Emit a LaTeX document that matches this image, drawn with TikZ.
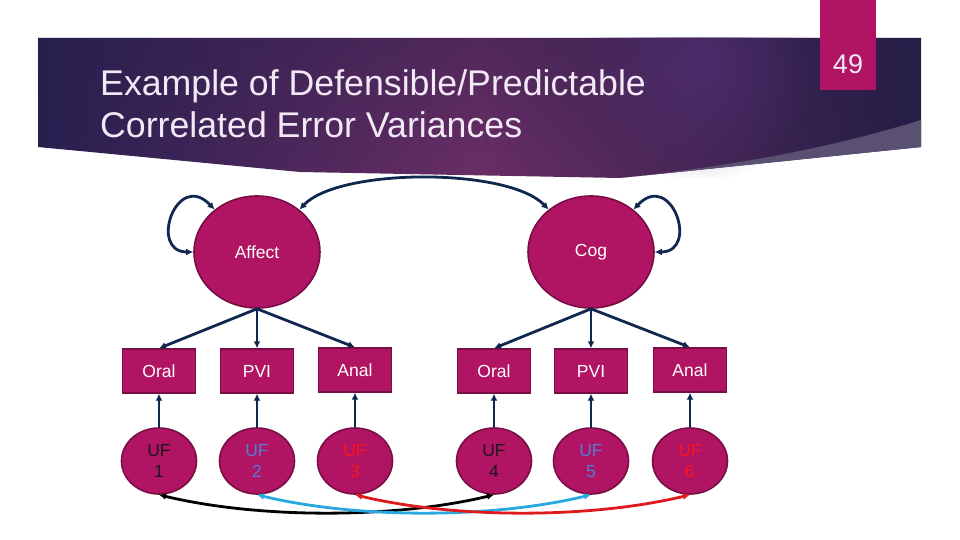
\documentclass[tikz,border=0pt]{standalone}
\usepackage{fontspec}
\setmainfont{Liberation Sans}
\usepackage{tikz}
\usetikzlibrary{arrows.meta,shapes,fadings}

\definecolor{plum}{RGB}{176,20,98}
\definecolor{plumedge}{RGB}{120,14,70}
\definecolor{navyline}{RGB}{16,40,80}
\definecolor{bannerleft}{RGB}{40,32,80}
\definecolor{bannermid}{RGB}{106,46,102}
\definecolor{bannerright}{RGB}{36,30,70}
\definecolor{bannertop}{RGB}{38,30,74}
\definecolor{bannerglow}{RGB}{84,48,118}
\definecolor{wedge}{RGB}{90,80,114}
\definecolor{titletext}{RGB}{242,232,246}
\definecolor{ufdark}{RGB}{28,20,30}
\definecolor{ufblue}{RGB}{84,122,218}
\definecolor{ufred}{RGB}{250,20,30}
\definecolor{cyanline}{RGB}{40,168,222}
\definecolor{redline}{RGB}{222,26,30}

\tikzfading[name=topdark, top color=transparent!65, bottom color=transparent!100]
\tikzfading[name=softglow, inner color=transparent!30, outer color=transparent!100]

\begin{document}
\begin{tikzpicture}[x=1pt, y=-1pt,
  every node/.style={font=\fontsize{17.5}{21}\selectfont},
  latent/.style={ellipse, draw=plumedge, line width=1.6pt, fill=plum, text=white,
    minimum width=126pt, minimum height=112pt, inner sep=0pt},
  obs/.style={rectangle, draw=plumedge, line width=1.4pt, fill=plum, text=white,
    minimum width=73pt, minimum height=44pt, inner sep=0pt},
  uf/.style={ellipse, draw=plumedge, line width=1.6pt, fill=plum, align=center,
    minimum width=75pt, minimum height=66pt, inner sep=0pt},
  loadarrow/.style={navyline, line width=2.8pt, -{Latex[length=7pt,width=7pt]}},
  covarrow/.style={navyline, line width=2.8pt, {Latex[length=7pt,width=7pt]}-{Latex[length=7pt,width=7pt]}}]
\useasboundingbox (0,0) rectangle (960,540);

% Title banner
\shade[left color=bannerleft, right color=bannerright, middle color=bannermid]
  (38,38) -- (921,38) -- (921,147) -- (620,178) -- (300,172) -- (38,147) -- cycle;
\fill[bannertop, path fading=topdark]
  (38,38) -- (921,38) -- (921,147) -- (620,178) -- (300,172) -- (38,147) -- cycle;
\begin{scope}
  \clip (38,38) rectangle (921,178);
  \fill[bannerglow, path fading=softglow] (700,62) circle (120);
\end{scope}
\fill[wedge] (921,120) .. controls (830,148) and (740,165) .. (620,178) -- (921,147) -- cycle;

% Page number
\fill[plum] (820,0) rectangle (876,90);
\node[text=titletext, font=\fontsize{27}{27}\selectfont] (pagenum) at (848,64) {49};

% Title
\node[anchor=base west, inner sep=0pt, text=titletext, font=\fontsize{35.7}{42}\selectfont]
  (title1) at (100,96) {Example of Defensible/Predictable};
\node[anchor=base west, inner sep=0pt, text=titletext, font=\fontsize{35.7}{42}\selectfont]
  (title2) at (100,138) {Correlated Error Variances};

% Latent factors
\node[latent] (affect) at (257,252) {Affect};
\node[latent] (cog) at (591,252) {Cog};

% Indicators
\node[obs] (oral1) at (159,371) {Oral};
\node[obs] (pvi1) at (257,371) {PVI};
\node[obs] (anal1) at (355,370) {Anal};
\node[obs] (oral2) at (494,371) {Oral};
\node[obs] (pvi2) at (591,371) {PVI};
\node[obs] (anal2) at (690,370) {Anal};

% Unique factors
\node[uf, text=ufdark] (uf1) at (159,461) {UF\\1};
\node[uf, text=ufblue] (uf2) at (257,461) {UF\\2};
\node[uf, text=ufred] (uf3) at (355,461) {UF\\3};
\node[uf, text=ufdark] (uf4) at (494,461) {UF\\4};
\node[uf, text=ufblue] (uf5) at (591,461) {UF\\5};
\node[uf, text=ufred] (uf6) at (690,461) {UF\\6};

% Loadings
\draw[loadarrow] (affect.south) -- (oral1.north);
\draw[loadarrow] (affect.south) -- (pvi1.north);
\draw[loadarrow] (affect.south) -- (anal1.north);
\draw[loadarrow] (cog.south) -- (oral2.north);
\draw[loadarrow] (cog.south) -- (pvi2.north);
\draw[loadarrow] (cog.south) -- (anal2.north);

% Unique factors to indicators
\draw[loadarrow] (uf1.north) -- (oral1.south);
\draw[loadarrow] (uf2.north) -- (pvi1.south);
\draw[loadarrow] (uf3.north) -- (anal1.south);
\draw[loadarrow] (uf4.north) -- (oral2.south);
\draw[loadarrow] (uf5.north) -- (pvi2.south);
\draw[loadarrow] (uf6.north) -- (anal2.south);

% Variances and factor covariance
\draw[covarrow] (affect.135) .. controls +(-38,-40) and +(-45,0) .. (affect.180);
\draw[covarrow] (cog.45) .. controls +(38,-40) and +(45,0) .. (cog.0);
\draw[covarrow] (affect.45) .. controls +(40,-42) and +(-40,-42) .. (cog.135);

% Correlated error variances
\draw[covarrow, black] (uf1.south) .. controls +(100,24) and +(-100,24) .. (uf4.south);
\draw[covarrow, cyanline] (uf2.south) .. controls +(100,24) and +(-100,24) .. (uf5.south);
\draw[covarrow, redline] (uf3.south) .. controls +(100,24) and +(-100,24) .. (uf6.south);
\end{tikzpicture}
\end{document}
